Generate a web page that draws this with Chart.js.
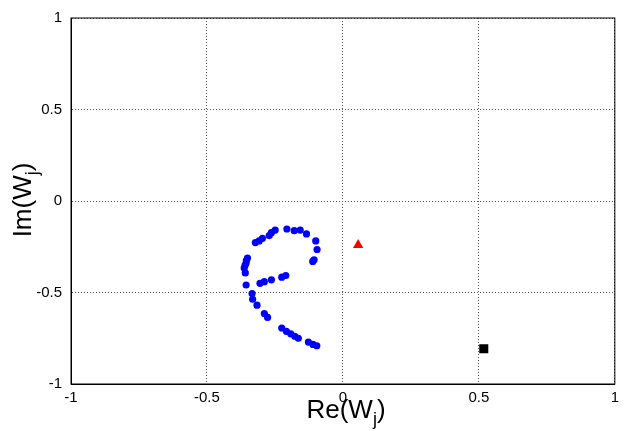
<!DOCTYPE html>
<html>
<head>
<meta charset="utf-8">
<script src="https://cdn.jsdelivr.net/npm/chart.js@4"></script>
<style>
  body { margin: 0; background: #fff; }
</style>
</head>
<body>
<canvas id="myChart" width="624" height="431"></canvas>
<script>
// eigenvalue points (Re, Im)
const reW = [-0.206, -0.179, -0.157, -0.134, -0.100, -0.095, -0.106, -0.111, -0.249, -0.263,
             -0.271, -0.296, -0.308, -0.322, -0.351, -0.356, -0.363, -0.359, -0.356, -0.334,
             -0.332, -0.316, -0.289, -0.277, -0.305, -0.289, -0.263, -0.225, -0.210, -0.225,
             -0.208, -0.192, -0.177, -0.164, -0.127, -0.110, -0.096, -0.355, -0.360];
const imW = [-0.153, -0.162, -0.159, -0.180, -0.218, -0.265, -0.321, -0.330, -0.159, -0.173,
             -0.189, -0.204, -0.218, -0.227, -0.312, -0.339, -0.366, -0.393, -0.459, -0.506,
             -0.537, -0.569, -0.615, -0.636, -0.450, -0.441, -0.431, -0.416, -0.407, -0.694,
             -0.712, -0.726, -0.739, -0.750, -0.771, -0.784, -0.791, -0.325, -0.352];
const triPoint = [0.056, -0.240];
const squarePoint = [0.518, -0.807];
const axisTicks = [-1, -0.5, 0, 0.5, 1];

const ctx = document.getElementById('myChart').getContext('2d');

// рамка и подписи осей с индексом j
const frameAndTitles = {
    id: 'frameAndTitles',
    afterDraw(chart) {
        const c = chart.ctx;
        const a = chart.chartArea;
        c.save();
        c.strokeStyle = '#000';
        c.lineWidth = 1;
        c.strokeRect(a.left, a.top, a.right - a.left, a.bottom - a.top);

        const big = '26px "Liberation Sans", Arial, sans-serif';
        const small = '18px "Liberation Sans", Arial, sans-serif';
        const drawSub = function (base, sub, close) {
            c.font = big;
            const w1 = c.measureText(base).width;
            const w3 = c.measureText(close).width;
            c.font = small;
            const w2 = c.measureText(sub).width;
            let x = -(w1 + w2 + w3) / 2;
            c.textAlign = 'left';
            c.textBaseline = 'alphabetic';
            c.font = big;
            c.fillText(base, x, 0);
            x += w1;
            c.font = small;
            c.fillText(sub, x, 7);
            x += w2;
            c.font = big;
            c.fillText(close, x, 0);
        };
        c.fillStyle = '#000';
        c.save();
        c.translate(346, 418);
        drawSub('Re(W', 'j', ')');
        c.restore();
        c.save();
        c.translate(31, 200);
        c.rotate(-Math.PI / 2);
        drawSub('Im(W', 'j', ')');
        c.restore();
        c.restore();
    }
};

const gridStyle = {
    color: '#555',
    lineWidth: 1,
    drawTicks: false
};

new Chart(ctx, {
    type: 'scatter',
    data: {
        datasets: [{
            data: reW.map((x, i) => ({ x: x, y: imW[i] })),
            backgroundColor: '#0000ff',
            borderWidth: 0,
            pointRadius: 3.6
        }, {
            data: [{ x: triPoint[0], y: triPoint[1] }],
            pointStyle: 'triangle',
            backgroundColor: '#ff0000',
            borderWidth: 0,
            pointRadius: 6
        }, {
            data: [{ x: squarePoint[0], y: squarePoint[1] }],
            pointStyle: 'rect',
            backgroundColor: '#000',
            borderWidth: 0,
            pointRadius: 6.4
        }]
    },
    options: {
        responsive: false,
        animation: false,
        layout: { padding: { top: 13, right: 7 } },
        plugins: {
            legend: { display: false },
            tooltip: { enabled: false }
        },
        scales: {
            x: {
                type: 'linear',
                min: -1,
                max: 1,
                afterBuildTicks(scale) { scale.ticks = axisTicks.map(v => ({ value: v })); },
                afterFit(scale) { scale.height = 47; },
                ticks: {
                    color: '#000',
                    padding: 5,
                    font: { family: '"Liberation Sans", Arial, sans-serif', size: 15 },
                    callback: v => String(v)
                },
                grid: gridStyle,
                border: { display: true, color: '#000', dash: [1, 2] }
            },
            y: {
                type: 'linear',
                min: -1,
                max: 1,
                afterBuildTicks(scale) { scale.ticks = axisTicks.map(v => ({ value: v })); },
                afterFit(scale) { scale.width = 71; },
                ticks: {
                    color: '#000',
                    padding: 9,
                    font: { family: '"Liberation Sans", Arial, sans-serif', size: 15 },
                    callback: v => String(v)
                },
                grid: gridStyle,
                border: { display: true, color: '#000', dash: [1, 2] }
            }
        }
    },
    plugins: [frameAndTitles]
});
</script>
</body>
</html>
